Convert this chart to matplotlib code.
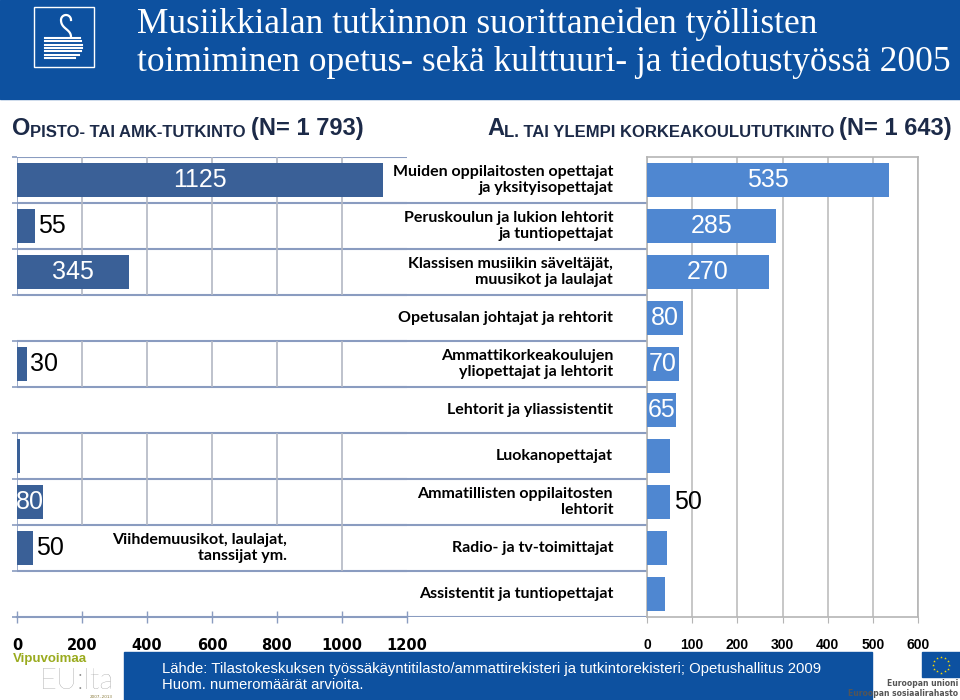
import numpy as np
import matplotlib.pyplot as plt
from matplotlib.patches import Rectangle

# data
categories = [
    "Muiden oppilaitosten opettajat\nja yksityisopettajat",
    "Peruskoulun ja lukion lehtorit\nja tuntiopettajat",
    "Klassisen musiikin säveltäjät,\nmuusikot ja laulajat",
    "Opetusalan johtajat ja rehtorit",
    "Ammattikorkeakoulujen\nyliopettajat ja lehtorit",
    "Lehtorit ja yliassistentit",
    "Luokanopettajat",
    "Ammatillisten oppilaitosten\nlehtorit",
    "Radio- ja tv-toimittajat",
    "Assistentit ja tuntiopettajat",
]
opisto_values = [1125, 55, 345, 0, 30, 0, 10, 80, 50, 0]
korkea_values = [535, 285, 270, 80, 70, 65, 50, 50, 45, 40]
opisto_ticks = [0, 200, 400, 600, 800, 1000, 1200]
korkea_ticks = [0, 100, 200, 300, 400, 500, 600]
viihde_label = "Viihdemuusikot, laulajat,\ntanssijat ym."

# where the value labels go
opisto_label_pos = ["in", "out", "in", None, "out", None, None, "in", "out", None]
korkea_label_pos = ["in", "in", "in", "in", "in", "in", None, "out", None, None]

title_lines = ["Musiikkialan tutkinnon suorittaneiden työllisten",
               "toimiminen opetus- sekä kulttuuri- ja tiedotustyössä 2005"]
source = "Lähde: Tilastokeskuksen työssäkäyntitilasto/ammattirekisteri ja tutkintorekisteri; Opetushallitus 2009\nHuom. numeromäärät arvioita."

blue = "#0d51a0"
navy = "#1c2a48"
left_bar = "#3a6097"
right_bar = "#4f87d1"
hline = "#8a9cc0"
vgrid = "#b3b8c4"

W, H = 960, 700
fig = plt.figure(figsize=(9.6, 7), dpi=100)


def box(x0, y0, x1, y1):
    # pixel box (top-left origin) -> figure fraction rect
    return [x0 / W, 1 - y1 / H, (x1 - x0) / W, (y1 - y0) / H]


# background / decoration layer in pixel coordinates
bg = fig.add_axes([0, 0, 1, 1], zorder=0)
bg.set_xlim(0, W)
bg.set_ylim(H, 0)
bg.axis("off")

bg.add_patch(Rectangle((0, 0), W, 99, color=blue))
bg.text(137, 33, title_lines[0], family="Liberation Serif", fontsize=25.5, color="white", va="baseline")
bg.text(137, 71, title_lines[1], family="Liberation Serif", fontsize=25.5, color="white", va="baseline")

# logo
bg.add_patch(Rectangle((34, 7), 60, 60, fill=False, ec="white", lw=1))
a = np.linspace(0, np.pi, 30)
hx = 66 + 5 * np.cos(a)
hy = 20 - 5 * np.sin(a)
u = np.linspace(0, 1, 30)
cx = (1 - u) ** 3 * 61 + 3 * (1 - u) ** 2 * u * 61 + 3 * (1 - u) * u ** 2 * 71 + u ** 3 * 71
cy = (1 - u) ** 3 * 20 + 3 * (1 - u) ** 2 * u * 29 + 3 * (1 - u) * u ** 2 * 29 + u ** 3 * 37
bg.plot(np.concatenate([hx, cx]), np.concatenate([hy, cy]), color="white", lw=1.6)
for yy in np.linspace(38, 58, 7):
    half = 10 * np.sqrt(max(0.0, 1 - ((yy - 46) / 12.5) ** 2))
    bg.plot([45, 72 + half], [yy, yy], color="white", lw=1.5)


def smallcaps(x, y, parts):
    prev = None
    for txt, size in parts:
        if prev is None:
            prev = bg.text(x, y, txt, fontsize=size, weight="bold", color=navy,
                           family="Liberation Sans", va="baseline")
        else:
            prev = bg.annotate(txt, xy=(1, 0), xycoords=prev, fontsize=size, weight="bold",
                               color=navy, family="Liberation Sans", va="bottom")


smallcaps(12, 135, [("O", 17), ("PISTO- TAI AMK-TUTKINTO ", 12), ("(N= 1 793)", 17)])
smallcaps(487, 135, [("A", 17), ("L. TAI YLEMPI KORKEAKOULUTUTKINTO ", 12), ("(N= 1 643)", 17)])

# footer
bg.add_patch(Rectangle((124, 652), 748, 48, color=blue))
bg.text(162, 677, source, fontsize=10.7, color="white", family="Liberation Sans",
        va="center", linespacing=1.2)
bg.text(13, 659, "Vipuvoimaa", fontsize=9.5, weight="bold", color="#9aab1e",
        family="Liberation Sans", va="center")
bg.text(40, 689, "EU:lta", fontsize=21, color="#8c8c8c", family="Lato", weight="light",
        va="baseline")
bg.text(101, 697, "2007–2013", fontsize=3, color="#8a7a3a", va="center", ha="center")
bg.add_patch(Rectangle((922, 652), 38, 25, color=blue))
ang = np.linspace(0, 2 * np.pi, 13)[:-1]
bg.scatter(941 + 8 * np.cos(ang), 664.5 + 8 * np.sin(ang), marker="*", s=4, color="#ffdd00", lw=0)
bg.text(958, 684, "Euroopan unioni", fontsize=5.5, weight="bold", color="#555555", ha="right", va="center")
bg.text(958, 694, "Euroopan sosiaalirahasto", fontsize=5.5, weight="bold", color="#555555",
        ha="right", va="center")

rows = np.arange(len(categories))

# left chart (opisto / AMK)
ax1 = fig.add_axes(box(17, 157, 407, 617), zorder=2)
ax1.patch.set_alpha(0)
ax1.set_xlim(0, 1200)
ax1.set_ylim(9.5, -0.5)
for s in ["top", "right", "left"]:
    ax1.spines[s].set_visible(False)
ax1.spines["bottom"].set_color(hline)
ax1.spines["bottom"].set_linewidth(1.5)
ax1.set_yticks([])
ax1.set_xticks(opisto_ticks)
ax1.set_xticklabels([str(v) for v in opisto_ticks], family="DejaVu Sans", weight="bold", fontsize=10.5)
ax1.tick_params(axis="x", direction="inout", length=8, color=hline, width=1, pad=11)

# sections that exist in the left panel
sections = [(-0.5, 2.5), (3.5, 4.5), (5.5, 8.5)]
for lo, hi in sections:
    for b in np.arange(lo, hi + 0.1, 1.0):
        ax1.hlines(b, 0, 1200, color=hline, lw=1.5, zorder=1)
        ax1.hlines(b, -15, 0, color=hline, lw=1.2, clip_on=False)
    ax1.vlines(0, lo, hi, color=hline, lw=1.2, zorder=1)
    for g in opisto_ticks[1:-1]:
        top = hi
        if lo == 5.5 and g < 1000:
            top = 7.5
        ax1.vlines(g, lo, top, color=vgrid, lw=1.2, zorder=1)
ax1.hlines(9.5, -15, 0, color=hline, lw=1.2, clip_on=False)

ax1.barh(rows, opisto_values, height=0.72, color=left_bar, zorder=3)
for r, v, pos in zip(rows, opisto_values, opisto_label_pos):
    if pos == "in":
        ax1.text(v / 2, r, str(v), color="white", fontsize=18, family="Liberation Sans",
                 ha="center", va="center", zorder=4)
    elif pos == "out":
        ax1.annotate(str(v), (v, r), xytext=(2, 0), textcoords="offset points", color="black",
                     fontsize=18, family="Liberation Sans", ha="left", va="center", zorder=4)
ax1.text(830, 8, viihde_label, fontsize=11.5, weight="bold", family="Lato", ha="right",
         va="center", linespacing=1.2, zorder=4)

# middle labels
axm = fig.add_axes(box(380, 157, 647, 617), zorder=1)
axm.patch.set_alpha(0)
axm.set_xlim(0, 1)
axm.set_ylim(9.5, -0.5)
axm.axis("off")
axm.hlines(np.arange(0.5, 10, 1.0), 0, 1, color=hline, lw=1.5)
for r, lab in zip(rows, categories):
    axm.text(0.873, r, lab, fontsize=11.5, weight="bold", family="Lato", ha="right",
             va="center", linespacing=1.2)

# right chart (al. tai ylempi korkeakoulututkinto)
ax2 = fig.add_axes(box(647, 157, 918, 617), zorder=2)
ax2.patch.set_alpha(0)
ax2.set_xlim(0, 600)
ax2.set_ylim(9.5, -0.5)
for s in ["top", "right", "bottom", "left"]:
    ax2.spines[s].set_color("#b5b5b5")
    ax2.spines[s].set_linewidth(1.2)
ax2.set_yticks([])
ax2.set_xticks(korkea_ticks)
ax2.set_xticklabels([str(v) for v in korkea_ticks], family="Liberation Sans",
                    weight="bold", fontsize=10)
ax2.tick_params(axis="x", direction="out", length=4, color="#b5b5b5", pad=11)
ax2.grid(axis="x", color="#bdbdbd", lw=1.2)
ax2.set_axisbelow(True)
ax2.barh(rows, korkea_values, height=0.72, color=right_bar, zorder=3)
for r, v, pos in zip(rows, korkea_values, korkea_label_pos):
    if pos == "in":
        ax2.text(v / 2, r, str(v), color="white", fontsize=18, family="Liberation Sans",
                 ha="center", va="center", zorder=4)
    elif pos == "out":
        ax2.annotate(str(v), (v, r), xytext=(3, 0), textcoords="offset points", color="black",
                     fontsize=18, family="Liberation Sans", ha="left", va="center", zorder=4)

fig.savefig("out.png", dpi=100)
